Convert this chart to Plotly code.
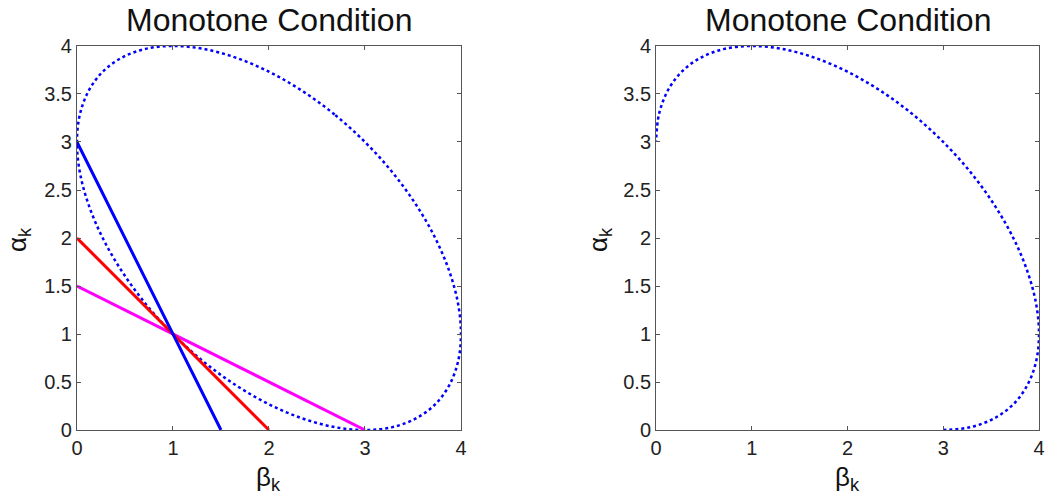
import plotly.graph_objects as go
from plotly.subplots import make_subplots

# Ellipse points (beta, alpha), going round from (3,3)
ell_beta = [3.0, 2.684, 2.347, 2.0, 1.653, 1.316, 1.0, 0.714, 0.468, 0.268, 0.121, 0.030,
            0.0, 0.030, 0.121, 0.268, 0.468, 0.714, 1.0, 1.316, 1.653, 2.0, 2.347, 2.684,
            3.0, 3.286, 3.532, 3.732, 3.879, 3.970, 4.0, 3.970, 3.879, 3.732, 3.532, 3.286, 3.0]
ell_alpha = [3.0, 3.286, 3.532, 3.732, 3.879, 3.970, 4.0, 3.970, 3.879, 3.732, 3.532, 3.286,
             3.0, 2.684, 2.347, 2.0, 1.653, 1.316, 1.0, 0.714, 0.468, 0.268, 0.121, 0.030,
             0.0, 0.030, 0.121, 0.268, 0.468, 0.714, 1.0, 1.316, 1.653, 2.0, 2.347, 2.684, 3.0]

# Right panel: the upper-right arc only, from (3,0) round to (0,3)
arc_beta = ell_beta[24:36] + ell_beta[0:13]
arc_alpha = ell_alpha[24:36] + ell_alpha[0:13]

# Straight lines (beta, alpha)
blue_beta = [0, 1.5]
blue_alpha = [3, 0]
red_beta = [0, 2]
red_alpha = [2, 0]
mag_beta = [0, 3]
mag_alpha = [1.5, 0]

x_ticks = [0, 1, 2, 3, 4]
y_ticks = [0, 0.5, 1, 1.5, 2, 2.5, 3, 3.5, 4]
title_text = "Monotone Condition"

fig = make_subplots(rows=1, cols=2)

dot_line = dict(color="#0000ff", width=2.5, dash="dot", shape="spline")
fig.add_trace(go.Scatter(x=ell_beta, y=ell_alpha, mode="lines", line=dot_line, showlegend=False), row=1, col=1)
fig.add_trace(go.Scatter(x=mag_beta, y=mag_alpha, mode="lines", line=dict(color="#ff00ff", width=3), showlegend=False), row=1, col=1)
fig.add_trace(go.Scatter(x=red_beta, y=red_alpha, mode="lines", line=dict(color="#ff0000", width=3), showlegend=False), row=1, col=1)
fig.add_trace(go.Scatter(x=blue_beta, y=blue_alpha, mode="lines", line=dict(color="#0000ff", width=3), showlegend=False), row=1, col=1)

fig.add_trace(go.Scatter(x=arc_beta, y=arc_alpha, mode="lines", line=dot_line, showlegend=False), row=1, col=2)

axis_common = dict(range=[0, 4], showgrid=False, zeroline=False, showline=True, linecolor="#555555", linewidth=1,
                   mirror="ticks", ticks="inside", ticklen=4, tickcolor="#555555", automargin=False,
                   tickfont=dict(family="Arial, Liberation Sans", size=20, color="#222222"))

fig.update_xaxes(**axis_common, tickvals=x_ticks, ticktext=[str(v) for v in x_ticks])
fig.update_yaxes(**axis_common, tickvals=y_ticks, ticktext=[("%g" % v) for v in y_ticks])

fig.update_layout(
    width=1050, height=501, margin=dict(l=0, r=0, t=0, b=0, autoexpand=False),
    paper_bgcolor="white", plot_bgcolor="white",
    xaxis=dict(domain=[0.0733, 0.4390]),
    xaxis2=dict(domain=[0.6248, 0.9895]),
    yaxis=dict(domain=[0.1417, 0.9082]),
    yaxis2=dict(domain=[0.1417, 0.9082]),
)

font_lbl = dict(family="Arial, Liberation Sans", size=26, color="#111111")
font_title = dict(family="Arial, Liberation Sans", size=32, color="#111111")
anns = []
for xc, ylab_x in [((0.0733 + 0.4390) / 2, 18 / 1050), ((0.6248 + 0.9895) / 2, 599 / 1050)]:
    anns.append(dict(text=title_text, x=xc, y=1, xref="paper", yref="paper", showarrow=False,
                     font=font_title, xanchor="center", yanchor="top"))
    anns.append(dict(text="β<sub>k</sub>", x=xc, y=1 - 478 / 501, xref="paper", yref="paper", showarrow=False,
                     font=font_lbl, xanchor="center", yanchor="middle"))
    anns.append(dict(text="α<sub>k</sub>", x=ylab_x, y=1 - 240 / 501, xref="paper", yref="paper", showarrow=False,
                     font=font_lbl, xanchor="center", yanchor="middle", textangle=-90))
fig.update_layout(annotations=anns)

fig.write_html("out.html")
